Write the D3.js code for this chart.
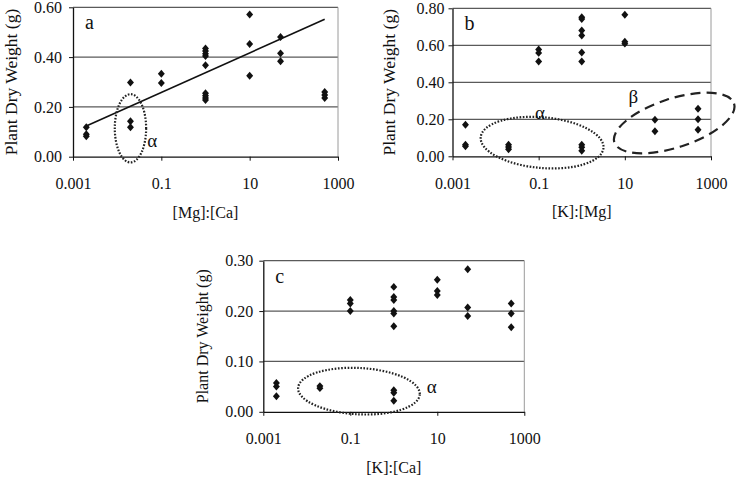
<!DOCTYPE html>
<html>
<head>
<meta charset="utf-8">
<script src="https://cdn.jsdelivr.net/npm/d3@7"></script>
<style>
  body { margin: 0; background: #fff; }
  svg text { font-family: "Liberation Serif", "Times New Roman", serif; fill: #111; }
</style>
</head>
<body>
<svg id="chart" width="736" height="478"></svg>
<script>
/***** values *****/
const xTicks = [0.001, 0.1, 10, 1000];

// a: [Mg]:[Ca]
const ratioA = [0.002, 0.02, 0.1, 1, 10, 50, 500];
const weightA = [
  [0.118, 0.09, 0.082],
  [0.298, 0.142, 0.118],
  [0.333, 0.296],
  [0.435, 0.424, 0.413, 0.404, 0.367, 0.255, 0.245, 0.236, 0.228],
  [0.571, 0.453, 0.325],
  [0.481, 0.415, 0.383],
  [0.26, 0.248, 0.236]
];
const yTicksA = [0, 0.2, 0.4, 0.6];
const trendA = [[0.002, 0.123], [500, 0.552]];

// b: [K]:[Mg]
const ratioB = [0.002, 0.02, 0.1, 1, 10, 50, 500];
const weightB = [
  [0.171, 0.063, 0.054],
  [0.063, 0.05, 0.038],
  [0.577, 0.559, 0.513],
  [0.752, 0.742, 0.68, 0.653, 0.561, 0.513, 0.063, 0.049, 0.03],
  [0.765, 0.619, 0.609],
  [0.197, 0.135],
  [0.257, 0.2, 0.144]
];
const yTicksB = [0, 0.2, 0.4, 0.6, 0.8];

// c: [K]:[Ca]
const ratioC = [0.002, 0.02, 0.1, 1, 10, 50, 500];
const weightC = [
  [0.057, 0.05, 0.031],
  [0.051, 0.047],
  [0.222, 0.215, 0.2],
  [0.248, 0.228, 0.222, 0.2, 0.195, 0.17, 0.043, 0.038, 0.022],
  [0.262, 0.24, 0.232],
  [0.283, 0.207, 0.19],
  [0.215, 0.195, 0.168]
];
const yTicksC = [0, 0.1, 0.2, 0.3];

/***** drawing *****/
const svg = d3.select("#chart");

// square diamond like the spreadsheet marker
const diamond = {
  draw(ctx, size) {
    const h = Math.sqrt(size) / 2;
    ctx.moveTo(0, -h * 1.15);
    ctx.lineTo(h, 0);
    ctx.lineTo(0, h * 1.15);
    ctx.lineTo(-h, 0);
    ctx.closePath();
  }
};

function panel(o) {
  const g = svg.append("g");

  const x = d3.scaleLog().domain([0.001, 1000]).range([o.left, o.right]);
  const y = d3.scaleLinear().domain([0, d3.max(o.yTicks)]).range([o.bottom, o.top]);
  const decade = (o.right - o.left) / 6;

  // gridlines (top one doubles as the frame)
  g.append("g").selectAll("line")
    .data(o.yTicks.slice(1))
    .join("line")
      .attr("x1", o.left).attr("x2", o.right)
      .attr("y1", d => y(d)).attr("y2", d => y(d))
      .attr("stroke", "#5a5a5a")
      .attr("stroke-width", 1.3);

  // right frame
  g.append("line")
    .attr("x1", o.right).attr("x2", o.right)
    .attr("y1", o.top).attr("y2", o.bottom)
    .attr("stroke", "#9a9a9a");

  // Add Y axis
  const ya = g.append("g")
    .attr("transform", "translate(" + o.left + ",0)")
    .call(d3.axisLeft(y).tickValues(o.yTicks).tickFormat(d3.format(".2f"))
      .tickSize(4).tickSizeOuter(0).tickPadding(o.yPad));
  ya.attr("font-size", 16);

  // Add X axis
  const xa = g.append("g")
    .attr("transform", "translate(0," + o.bottom + ")")
    .call(d3.axisBottom(x).tickValues(xTicks).tickFormat(d => String(d))
      .tickSize(4).tickSizeOuter(0).tickPadding(17));
  xa.attr("font-size", 16);

  g.selectAll(".domain").attr("stroke", "#111").attr("stroke-width", 1.3);
  g.selectAll(".tick line").attr("stroke", "#111");

  // titles
  g.append("text")
    .attr("transform", "translate(" + (o.left - o.titleOff) + "," + ((o.top + o.bottom) / 2) + ") rotate(-90)")
    .attr("text-anchor", "middle")
    .attr("font-size", o.titleSize)
    .text("Plant Dry Weight (g)");

  g.append("text")
    .attr("x", (o.left + o.right) / 2)
    .attr("y", o.bottom + 61)
    .attr("text-anchor", "middle")
    .attr("font-size", 16)
    .text(o.xTitle);

  g.append("text")
    .attr("x", o.left + 12)
    .attr("y", o.top + 22)
    .attr("font-size", 20)
    .text(o.letter);

  // trend line
  if (o.trend) {
    g.append("path")
      .datum(o.trend)
      .attr("fill", "none")
      .attr("stroke", "#111")
      .attr("stroke-width", 1.6)
      .attr("d", d3.line().x(d => x(d[0])).y(d => y(d[1])));
  }

  // points
  const pts = [];
  o.ratio.forEach((r, i) => o.weight[i].forEach(w => pts.push({ r: r, w: w })));
  g.append("g").selectAll("path")
    .data(pts)
    .join("path")
      .attr("transform", d => "translate(" + x(d.r) + "," + y(d.w) + ")")
      .attr("d", d3.symbol().type(diamond).size(48))
      .attr("fill", "#111");

  // circled groups
  (o.rings || []).forEach(e => {
    const cx = x(e.r), cy = y(e.w);
    g.append("ellipse")
      .attr("cx", cx).attr("cy", cy)
      .attr("rx", e.rDec * decade)
      .attr("ry", Math.abs(y(0) - y(e.rW)))
      .attr("transform", "rotate(" + e.rot + "," + cx + "," + cy + ")")
      .attr("fill", "none")
      .attr("stroke", "#222")
      .attr("stroke-width", 2.2)
      .attr("stroke-dasharray", e.dashed ? "10,6" : "1.6,1.6");
    g.append("text")
      .attr("x", x(e.lr)).attr("y", y(e.lw))
      .attr("text-anchor", "middle")
      .attr("dominant-baseline", "central")
      .attr("font-size", 19)
      .text(e.label);
  });
}

panel({
  left: 73, right: 338, top: 7.3, bottom: 156.7,
  yTicks: yTicksA, ratio: ratioA, weight: weightA, trend: trendA,
  xTitle: "[Mg]:[Ca]", letter: "a", titleSize: 17.5, titleOff: 56, yPad: 7,
  rings: [
    { r: 0.02, w: 0.114, rDec: 0.355, rW: 0.137, rot: 0, label: "α", lr: 0.062, lw: 0.066 }
  ]
});

panel({
  left: 452.5, right: 711, top: 8.3, bottom: 156.3,
  yTicks: yTicksB, ratio: ratioB, weight: weightB,
  xTitle: "[K]:[Mg]", letter: "b", titleSize: 17.5, titleOff: 58, yPad: 4,
  rings: [
    { r: 0.12, w: 0.074, rDec: 1.43, rW: 0.137, rot: 5, label: "α", lr: 0.107, lw: 0.235 },
    { r: 140, w: 0.18, rDec: 1.46, rW: 0.132, rot: -18, dashed: true, label: "β", lr: 15.7, lw: 0.325 }
  ]
});

panel({
  left: 263.3, right: 524.3, top: 260.7, bottom: 411.8,
  yTicks: yTicksC, ratio: ratioC, weight: weightC,
  xTitle: "[K]:[Ca]", letter: "c", titleSize: 16, titleOff: 55, yPad: 6,
  rings: [
    { r: 0.158, w: 0.041, rDec: 1.4, rW: 0.046, rot: 3, label: "α", lr: 7.4, lw: 0.05 }
  ]
});
</script>
</body>
</html>
